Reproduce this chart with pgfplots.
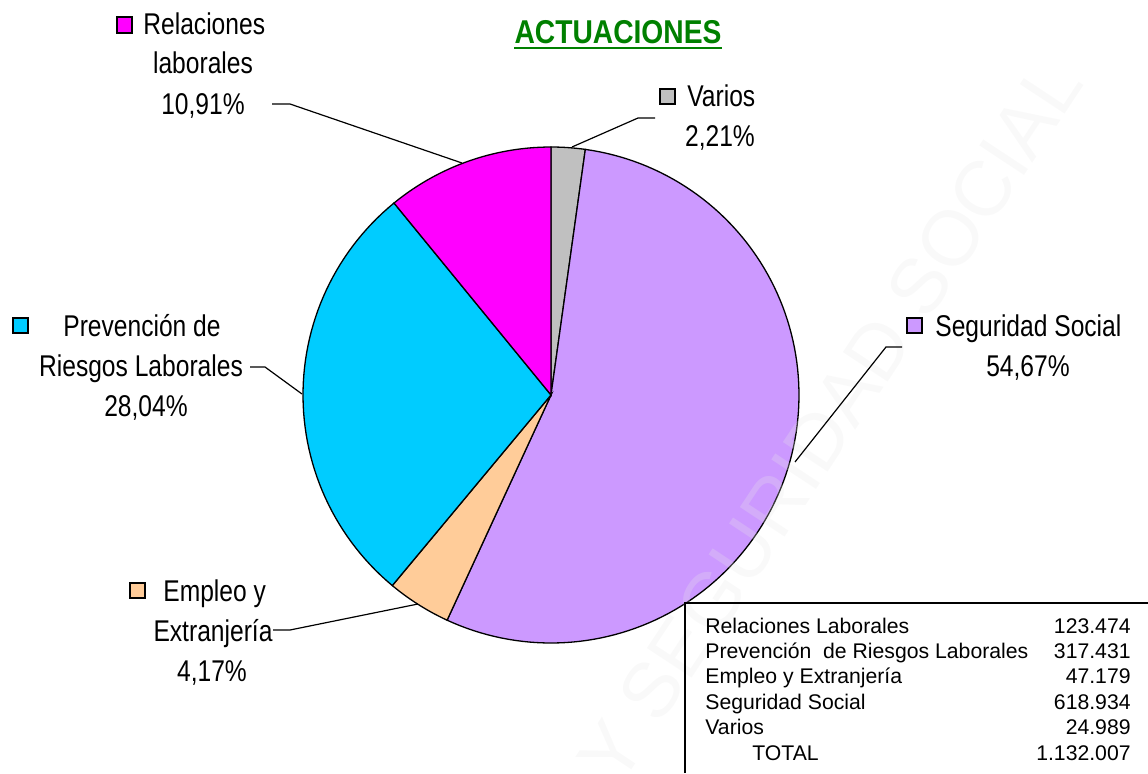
\documentclass[border=0pt]{standalone}
\usepackage{pgfplots}
\pgfplotsset{compat=1.18}
\usepackage{fontspec}
\setmainfont{Liberation Sans}
\definecolor{cRel}{HTML}{FF00FF}
\definecolor{cVar}{HTML}{C0C0C0}
\definecolor{cSeg}{HTML}{CC99FF}
\definecolor{cEmp}{HTML}{FFCC99}
\definecolor{cPre}{HTML}{00CCFF}
\definecolor{cTit}{HTML}{008000}
% shares in percent, clockwise from 12 o'clock
\def\pVar{2.21}
\def\pSeg{54.67}
\def\pEmp{4.17}
\def\pPre{28.04}
\def\pRel{10.91}
\pgfmathsetmacro\aA{90}
\pgfmathsetmacro\aB{\aA-3.6*\pVar}
\pgfmathsetmacro\aC{\aB-3.6*\pSeg}
\pgfmathsetmacro\aD{\aC-3.6*\pEmp}
\pgfmathsetmacro\aE{\aD-3.6*\pPre}
\pgfmathsetmacro\aF{\aE-3.6*\pRel}
\def\cx{551}\def\cy{378}\def\r{248}
\newcommand\lbl{\fontsize{15}{16}\selectfont}
\newcommand\tbl{\fontsize{10.6}{12}\selectfont}
\newcommand\lb[1]{\scalebox{0.82}[1]{#1}}
\begin{document}
\begin{tikzpicture}
\begin{axis}[
  width=574pt, height=386.5pt, scale only axis,
  xmin=0, xmax=1148, ymin=0, ymax=773,
  hide axis, clip=false]
% slices
\addplot[fill=cVar, draw=black, line width=0.65pt, domain=\aB:\aA, samples=10, variable=\t]
  ({\cx+\r*cos(\t)},{\cy+\r*sin(\t)}) -- (axis cs:\cx,\cy) -- cycle;
\addplot[fill=cSeg, draw=black, line width=0.65pt, domain=\aC:\aB, samples=120, variable=\t]
  ({\cx+\r*cos(\t)},{\cy+\r*sin(\t)}) -- (axis cs:\cx,\cy) -- cycle;
\addplot[fill=cEmp, draw=black, line width=0.65pt, domain=\aD:\aC, samples=15, variable=\t]
  ({\cx+\r*cos(\t)},{\cy+\r*sin(\t)}) -- (axis cs:\cx,\cy) -- cycle;
\addplot[fill=cPre, draw=black, line width=0.65pt, domain=\aE:\aD, samples=60, variable=\t]
  ({\cx+\r*cos(\t)},{\cy+\r*sin(\t)}) -- (axis cs:\cx,\cy) -- cycle;
\addplot[fill=cRel, draw=black, line width=0.65pt, domain=\aF:\aE, samples=30, variable=\t]
  ({\cx+\r*cos(\t)},{\cy+\r*sin(\t)}) -- (axis cs:\cx,\cy) -- cycle;
% watermark
\node[rotate=56.5, text=gray!18, text opacity=0.25, font=\fontsize{39}{40}\selectfont] at (axis cs:830,352) {Y SEGURIDAD SOCIAL};
% title
\node[anchor=base, inner sep=0pt, text=cTit, font=\fontsize{16.5}{17}\selectfont\bfseries] at (axis cs:618,730) {\scalebox{0.855}[1]{ACTUACIONES}};
\draw[cTit, line width=1.1pt] (axis cs:514,725) -- (axis cs:722,725);
\begin{scope}[every node/.style={inner sep=0pt, font=\lbl}]
% Relaciones laborales
\draw[fill=cRel, line width=0.6pt] (axis cs:117,740) rectangle (axis cs:132,756);
\node[anchor=base west] at (axis cs:143,739) {\lb{Relaciones}};
\node[anchor=base] at (axis cs:203,699) {\lb{laborales}};
\node[anchor=base] at (axis cs:203,659) {\lb{10,91\%}};
\draw[line width=0.6pt] (axis cs:272,669) -- (axis cs:290,669) -- (axis cs:462,610);
% Varios
\draw[fill=cVar, line width=0.6pt] (axis cs:660,669) rectangle (axis cs:675,684);
\node[anchor=base west] at (axis cs:687,667) {\lb{Varios}};
\node[anchor=base] at (axis cs:720,627) {\lb{2,21\%}};
\draw[line width=0.6pt] (axis cs:572,626) -- (axis cs:638,655) -- (axis cs:655,655);
% Seguridad Social
\draw[fill=cSeg, line width=0.6pt] (axis cs:907,440) rectangle (axis cs:922,455);
\node[anchor=base west] at (axis cs:935,437) {\lb{Seguridad Social}};
\node[anchor=base] at (axis cs:1028,397) {\lb{54,67\%}};
\draw[line width=0.6pt] (axis cs:795,311) -- (axis cs:886,426) -- (axis cs:902,426);
% Prevencion
\draw[fill=cPre, line width=0.6pt] (axis cs:13,440) rectangle (axis cs:28,455);
\node[anchor=base] at (axis cs:142,437) {\lb{Prevención de}};
\node[anchor=base] at (axis cs:141,397) {\lb{Riesgos Laborales}};
\node[anchor=base] at (axis cs:146,357) {\lb{28,04\%}};
\draw[line width=0.6pt] (axis cs:250,406) -- (axis cs:265,406) -- (axis cs:302,379);
% Empleo
\draw[fill=cEmp, line width=0.6pt] (axis cs:130,175) rectangle (axis cs:145,190);
\node[anchor=base west] at (axis cs:163,172) {\lb{Empleo y}};
\node[anchor=base] at (axis cs:213,132) {\lb{Extranjería}};
\node[anchor=base] at (axis cs:212,92) {\lb{4,17\%}};
\draw[line width=0.6pt] (axis cs:273,143) -- (axis cs:290,143) -- (axis cs:418,169);
\end{scope}
% table
\draw[line width=0.8pt] (axis cs:685,0) -- (axis cs:685,170) -- (axis cs:1148,170);
\begin{scope}[every node/.style={inner sep=0pt, font=\tbl}]
\node[anchor=base west] at (axis cs:705,140) {Relaciones Laborales};
\node[anchor=base west] at (axis cs:705,115) {Prevención\ \ de Riesgos Laborales};
\node[anchor=base west] at (axis cs:705,90) {Empleo y Extranjería};
\node[anchor=base west] at (axis cs:705,64) {Seguridad Social};
\node[anchor=base west] at (axis cs:705,39) {Varios};
\node[anchor=base west] at (axis cs:752,13) {TOTAL};
\node[anchor=base east] at (axis cs:1131,140) {123.474};
\node[anchor=base east] at (axis cs:1131,115) {317.431};
\node[anchor=base east] at (axis cs:1131,90) {47.179};
\node[anchor=base east] at (axis cs:1131,64) {618.934};
\node[anchor=base east] at (axis cs:1131,39) {24.989};
\node[anchor=base east] at (axis cs:1131,13) {1.132.007};
\end{scope}
\end{axis}
\pgfresetboundingbox
\useasboundingbox (current axis.south west) rectangle (current axis.north east);
\end{tikzpicture}
\end{document}
